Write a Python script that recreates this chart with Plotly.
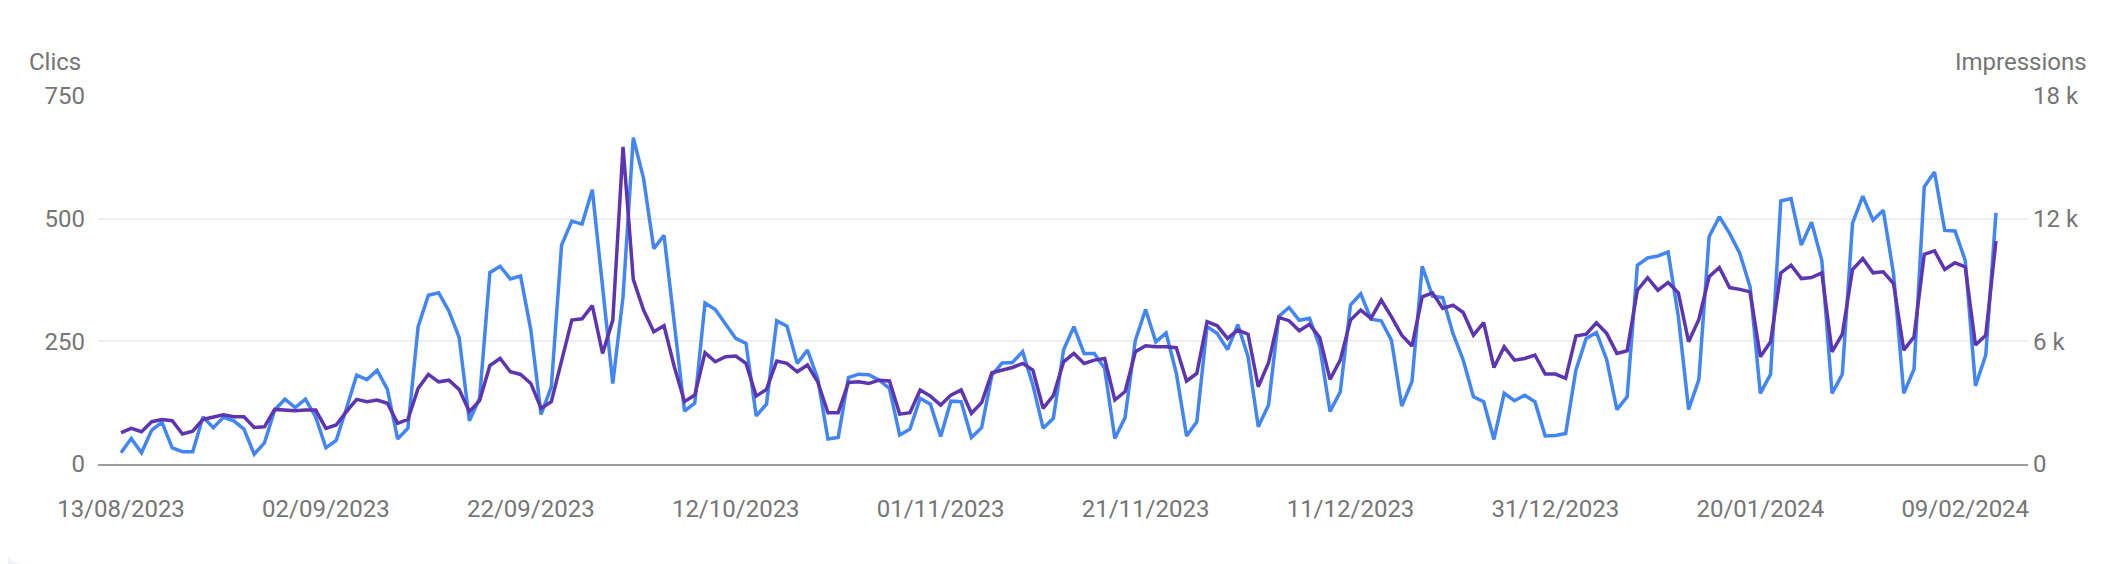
import datetime as dt
import plotly.graph_objects as go

start = dt.date(2023, 8, 13)

clics = [
    23, 52, 23, 69, 85, 33, 25, 25, 96, 74, 95, 88, 71, 20, 43, 110, 132, 115, 132, 96, 33, 48, 113, 181, 172, 191, 152, 51,
    73, 280, 344, 349, 312, 258, 88, 134, 390, 403, 377, 383, 273, 101, 157, 446, 495, 489, 559, 358, 164, 341, 665, 582, 439, 466, 280, 108, 124, 328, 315, 287,
    256, 246, 98, 122, 292, 281, 205, 232, 174, 51, 54, 176, 183, 182, 171, 154, 59, 71, 134, 122, 56, 128, 127, 54, 74, 181, 206, 207, 229, 161, 73, 93,
    233, 280, 225, 225, 195, 52, 95, 252, 315, 249, 267, 185, 57, 86, 280, 266, 233, 284, 219, 76, 120, 301, 319, 293, 297, 239, 107, 147, 324, 347, 295, 292,
    252, 118, 168, 403, 342, 339, 266, 212, 137, 127, 50, 144, 129, 140, 127, 57, 58, 62, 191, 256, 268, 213, 111, 137, 405, 420, 424, 432, 300, 111, 172, 463,
    504, 470, 429, 361, 144, 183, 536, 541, 446, 493, 415, 144, 183, 491, 546, 497, 517, 388, 144, 193, 565, 595, 476, 475, 415, 159, 222, 512,
]

impressions = [
    1530, 1740, 1580, 2070, 2180, 2120, 1470, 1610, 2180, 2280, 2410, 2310, 2310, 1790, 1820, 2670, 2640, 2610, 2640, 2640, 1740, 1910, 2560, 3160, 3050, 3130, 2970, 1990,
    2180, 3700, 4380, 4020, 4100, 3650, 2560, 3100, 4810, 5160, 4510, 4380, 3940, 2720, 3050, 5080, 7040, 7100, 7750, 5410, 7040, 15510, 9030, 7530, 6470, 6760, 4760, 3050, 3370, 5440, 5000, 5250,
    5280, 4920, 3320, 3650, 5030, 4920, 4510, 4840, 4020, 2510, 2510, 3990, 4020, 3940, 4100, 4060, 2440, 2510, 3620, 3320, 2880, 3370, 3620, 2480, 3000, 4460, 4590, 4720, 4920, 4590, 2720, 3350,
    5000, 5410, 4920, 5080, 5160, 3130, 3540, 5490, 5780, 5730, 5730, 5690, 4060, 4430, 6960, 6760, 6140, 6550, 6350, 3780, 4950, 7170, 7010, 6520, 6830, 6190, 4140, 5080, 7040, 7530, 7120, 8020,
    7200, 6300, 5770, 8180, 8370, 7610, 7770, 7410, 6300, 6910, 4720, 5730, 5080, 5160, 5330, 4400, 4400, 4190, 6260, 6350, 6910, 6390, 5410, 5540, 8500, 9110, 8500, 8880, 8370, 5980, 7070, 9160,
    9610, 8630, 8540, 8420, 5250, 5980, 9350, 9730, 9070, 9120, 9350, 5490, 6350, 9510, 10050, 9350, 9400, 8830, 5570, 6220, 10260, 10430, 9510, 9840, 9640, 5820, 6300, 10910,
]

dates = [start + dt.timedelta(days=i) for i in range(len(clics))]

y_ticks = [0, 250, 500, 750]
y2_ticks = [0, 6000, 12000, 18000]
y2_labels = ["0", "6 k", "12 k", "18 k"]

# the page has an 8px body margin; work in page pixels and convert
OFF = 8
PAGE_W, PAGE_H = 2110, 564
W, H = PAGE_W - OFF, PAGE_H - OFF
PL, PR, PT, PB = 98, 2028, 96, 464          # plot area in page pixels
L, R, T, B = PL - OFF, W - (PR - OFF), PT - OFF, H - (PB - OFF)
pw, ph = PR - PL, PB - PT

def px(x):
    return (x - PL) / pw

def py(y):
    return (PB - y) / ph

FONT = "Roboto"
GREY = "#757575"

fig = go.Figure()
fig.add_trace(go.Scatter(
    x=dates, y=impressions, name="Impressions", yaxis="y2", mode="lines",
    line=dict(color="#5E35B1", width=3.5), hoverinfo="skip"))
fig.add_trace(go.Scatter(
    x=dates, y=clics, name="Clics", yaxis="y", mode="lines",
    line=dict(color="#4285F4", width=3.5), hoverinfo="skip"))

x_start = dt.datetime(2023, 8, 10, 18, 7)
x_end = dt.datetime(2024, 2, 15, 3, 0)

fig.update_layout(
    width=W, height=H,
    margin=dict(l=L, r=R, t=T, b=B, pad=0),
    paper_bgcolor="white", plot_bgcolor="white",
    showlegend=False,
    font=dict(family=FONT, size=24, color=GREY),
    xaxis=dict(
        type="date", range=[x_start, x_end],
        tick0="2023-08-13", dtick=20 * 86400000, tickformat="%d/%m/%Y",
        showgrid=False, zeroline=False,
        showline=True, linecolor="#9e9e9e", linewidth=2,
        ticks="", ticklabelstandoff=22,
        tickfont=dict(family=FONT, size=24, color=GREY),
    ),
    yaxis=dict(
        range=[0, 750], tickvals=y_ticks,
        showgrid=True, gridcolor="#eeeeee", gridwidth=2,
        zeroline=False, showline=False, ticks="", ticklabelstandoff=12,
        tickfont=dict(family=FONT, size=24, color=GREY),
    ),
    yaxis2=dict(
        range=[0, 18000], tickvals=y2_ticks, ticktext=y2_labels,
        overlaying="y", side="right",
        showgrid=False, zeroline=False, showline=False, ticks="", ticklabelstandoff=4,
        tickfont=dict(family=FONT, size=24, color=GREY),
    ),
)

fig.add_annotation(text="Clics", xref="paper", yref="paper", x=px(83), y=py(62),
                   xanchor="right", yanchor="middle", showarrow=False,
                   font=dict(family=FONT, size=24, color=GREY))
fig.add_annotation(text="Impressions", xref="paper", yref="paper", x=px(2089), y=py(62),
                   xanchor="right", yanchor="middle", showarrow=False,
                   font=dict(family=FONT, size=24, color=GREY))

# light page background visible at the card's rounded bottom-left corner
corner = (f"M {px(0)},{py(528)} L {px(0)},{py(564)} L {px(26)},{py(564)} "
          f"Q {px(0)},{py(564)} {px(0)},{py(528)} Z")
fig.add_shape(type="path", path=corner, xref="paper", yref="paper",
              fillcolor="#f0f2f5", line=dict(width=0), layer="below")

fig.write_html("out.html")
